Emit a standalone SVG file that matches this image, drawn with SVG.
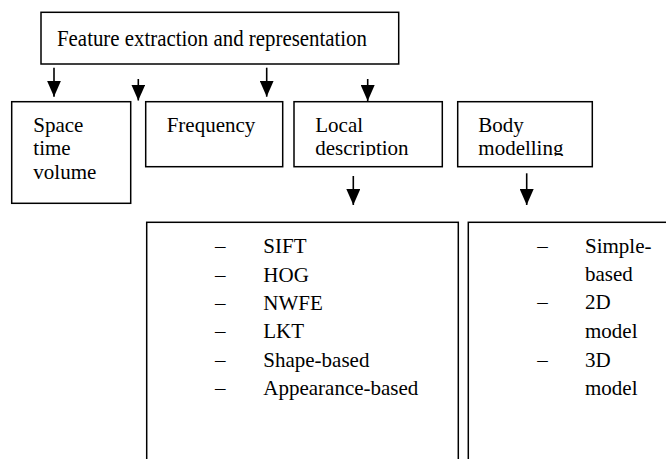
<svg xmlns="http://www.w3.org/2000/svg" width="666" height="459" viewBox="0 0 666 459">
<style>
.box{fill:#fff;stroke:#000;stroke-width:1.5}
.t{font-family:"Liberation Serif","Times New Roman",serif;font-size:21px;fill:#000}
.conn{stroke:#000;stroke-width:1.6;fill:none}
</style>
<defs>
<marker id="ah" markerUnits="userSpaceOnUse" markerWidth="16" markerHeight="14" viewBox="0 0 16 14" refX="16" refY="7" orient="auto">
<path d="M0,0 L16,7 L0,14 Z" fill="#000"/>
</marker>
<clipPath id="c3"><rect x="294" y="101" width="149" height="55"/></clipPath>
<clipPath id="c4"><rect x="457" y="101" width="136" height="55"/></clipPath>
</defs>
<rect width="666" height="459" fill="#fff"/>
<g id="root">
<rect class="box" x="41" y="12.3" width="357.7" height="51.7"/>
<text class="t" x="57" y="45.7" style="font-size:24px" textLength="310" lengthAdjust="spacingAndGlyphs">Feature extraction and representation</text>
</g>
<g id="space-time">
<rect class="box" x="11.7" y="101.7" width="119" height="101.6"/>
<text class="t" x="33.3" y="131.7">Space</text>
<text class="t" x="33.3" y="155.2">time</text>
<text class="t" x="33.3" y="179.3">volume</text>
</g>
<g id="frequency">
<rect class="box" x="145.7" y="101.7" width="137" height="65"/>
<text class="t" x="166.7" y="131.7">Frequency</text>
</g>
<g id="local">
<rect class="box" x="294" y="101.7" width="148.3" height="65"/>
<g clip-path="url(#c3)">
<text class="t" x="315.3" y="131.7">Local</text>
<text class="t" x="315.3" y="155.2">description</text>
</g>
</g>
<g id="body">
<rect class="box" x="457.7" y="101.7" width="134.6" height="65"/>
<g clip-path="url(#c4)">
<text class="t" x="478.3" y="131.7">Body</text>
<text class="t" x="478.3" y="155.2">modelling</text>
</g>
</g>
<g id="local-list">
<rect class="box" x="146.7" y="222.3" width="311.6" height="260"/>
<g class="t">
<text x="215" y="253.3">–</text><text x="263.3" y="253.3">SIFT</text>
<text x="215" y="281.7">–</text><text x="263.3" y="281.7">HOG</text>
<text x="215" y="310">–</text><text x="263.3" y="310">NWFE</text>
<text x="215" y="338.3">–</text><text x="263.3" y="338.3">LKT</text>
<text x="215" y="366.7">–</text><text x="263.3" y="366.7">Shape-based</text>
<text x="215" y="395">–</text><text x="263.3" y="395">Appearance-based</text>
</g>
</g>
<g id="body-list">
<rect class="box" x="468.3" y="222.3" width="230" height="260"/>
<g class="t">
<text x="537.3" y="253.3">–</text><text x="585" y="253.3">Simple-</text>
<text x="585" y="281.2">based</text>
<text x="537.3" y="309.4">–</text><text x="585" y="309.4">2D</text>
<text x="585" y="338.3">model</text>
<text x="537.3" y="366.7">–</text><text x="585" y="366.7">3D</text>
<text x="585" y="395">model</text>
</g>
</g>
<g id="connectors">
<line class="conn" x1="54" y1="67.7" x2="54" y2="96.7" marker-end="url(#ah)"/>
<line class="conn" x1="138.3" y1="79" x2="138.3" y2="100.5" marker-end="url(#ah)"/>
<line class="conn" x1="266.7" y1="67.7" x2="266.7" y2="96.7" marker-end="url(#ah)"/>
<line class="conn" x1="367.7" y1="79" x2="367.7" y2="101" marker-end="url(#ah)"/>
<line class="conn" x1="353.3" y1="176" x2="353.3" y2="205" marker-end="url(#ah)"/>
<line class="conn" x1="526.7" y1="173.3" x2="526.7" y2="205" marker-end="url(#ah)"/>
</g>
</svg>
